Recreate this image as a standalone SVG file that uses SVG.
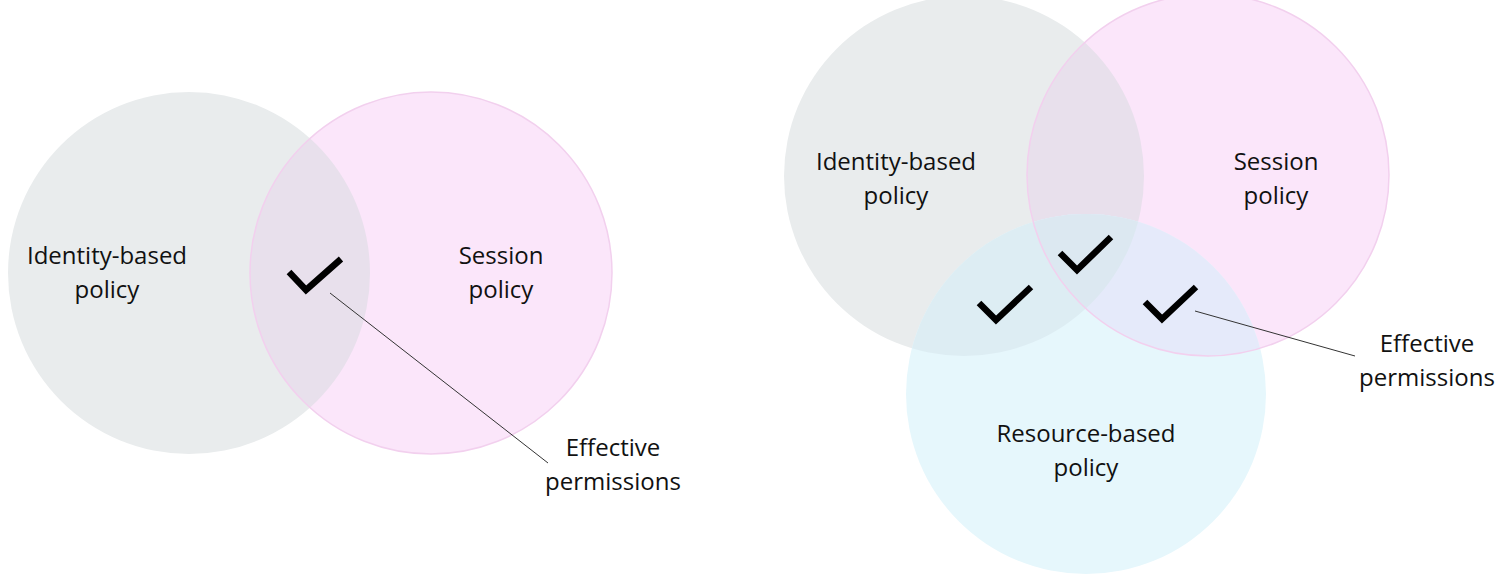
<svg xmlns="http://www.w3.org/2000/svg" width="1505" height="574" viewBox="0 0 1505 574">
<style>
.lbl{font-family:"Open Sans","Noto Sans",sans-serif;font-size:24px;fill:#111;text-anchor:middle}
.chk{fill:none;stroke:#000;stroke-width:6.5;stroke-linejoin:miter;stroke-linecap:butt}
.lead{fill:none;stroke:#333;stroke-width:1}
.gray{fill:#E9ECED}
.pink{fill:#FBE6FA}
.blue{fill:#E6F7FC}
.gp{fill:#E8E0EC}
.gb{fill:#DDEDF3}
.pb{fill:#E5EAFA}
.gpb{fill:#DCE8F1}
.pedge{fill:none;stroke:#F2D0EE;stroke-width:1.5}
</style>
<defs>
<clipPath id="cG1"><circle cx="189" cy="273" r="181"/></clipPath>
<clipPath id="cG2"><circle cx="964" cy="176" r="180"/></clipPath>
<clipPath id="cP2"><circle cx="1208" cy="175" r="181"/></clipPath>
</defs>

<g id="left-identity">
<circle class="gray" cx="189" cy="273" r="181"/>
<text class="lbl" x="107" y="264">Identity-based</text>
<text class="lbl" x="107" y="298">policy</text>
</g>
<g id="left-session">
<circle class="pink" cx="431" cy="273" r="181"/>
<circle class="gp" cx="431" cy="273" r="181" clip-path="url(#cG1)"/>
<circle class="pedge" cx="431" cy="273" r="181"/>
<text class="lbl" x="501" y="264">Session</text>
<text class="lbl" x="501" y="298">policy</text>
</g>

<g id="right-identity">
<circle class="gray" cx="964" cy="176" r="180"/>
<text class="lbl" x="896" y="170">Identity-based</text>
<text class="lbl" x="896" y="204">policy</text>
</g>
<g id="right-session">
<circle class="pink" cx="1208" cy="175" r="181"/>
<circle class="gp" cx="1208" cy="175" r="181" clip-path="url(#cG2)"/>
<text class="lbl" x="1276" y="170">Session</text>
<text class="lbl" x="1276" y="204">policy</text>
</g>
<g id="right-resource">
<circle class="blue" cx="1086" cy="394" r="180"/>
<circle class="gb" cx="1086" cy="394" r="180" clip-path="url(#cG2)"/>
<circle class="pb" cx="1086" cy="394" r="180" clip-path="url(#cP2)"/>
<g clip-path="url(#cP2)"><circle class="gpb" cx="1086" cy="394" r="180" clip-path="url(#cG2)"/></g>
<circle class="pedge" cx="1208" cy="175" r="181"/>
<text class="lbl" x="1086" y="442">Resource-based</text>
<text class="lbl" x="1086" y="476">policy</text>
</g>

<g id="checks">
<polyline class="chk" points="289,272 306,290 341,259"/>
<polyline class="chk" points="1060,253 1077,270 1111,237"/>
<polyline class="chk" points="979,303 996,320 1031,287"/>
<polyline class="chk" points="1145,302 1162,319 1196,287"/>
</g>

<g id="connectors">
<line class="lead" x1="330" y1="293" x2="548" y2="463"/>
<line class="lead" x1="1195" y1="311" x2="1355" y2="356"/>
</g>

<g id="left-effective">
<text class="lbl" x="613" y="456">Effective</text>
<text class="lbl" x="613" y="490">permissions</text>
</g>
<g id="right-effective">
<text class="lbl" x="1427" y="352">Effective</text>
<text class="lbl" x="1427" y="386">permissions</text>
</g>
</svg>
